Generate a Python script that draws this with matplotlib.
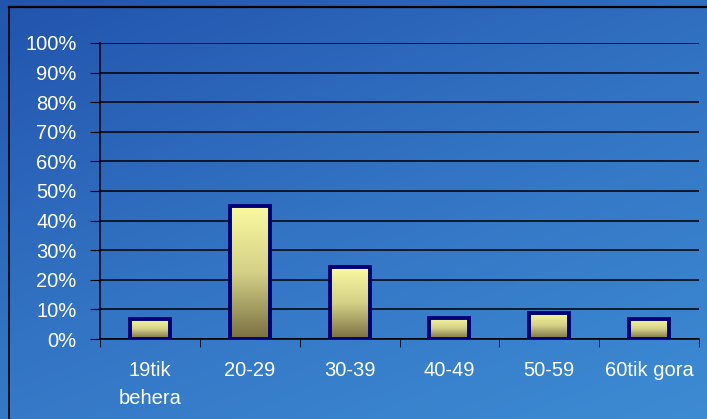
import matplotlib.pyplot as plt
import numpy as np
from matplotlib.colors import LinearSegmentedColormap
from matplotlib.lines import Line2D

# age groups and share of respondents (%)
categories = ['19tik\nbehera', '20-29', '30-39', '40-49', '50-59', '60tik gora']
values = [6.6, 44.8, 24.2, 7.2, 8.8, 6.7]

plt.rcParams['font.family'] = ['Liberation Sans', 'DejaVu Sans']

fig = plt.figure(figsize=(7.07, 4.19), dpi=100)

# blue slide background
bg = fig.add_axes([0, 0, 1, 1], zorder=-10)
yy, xx = np.mgrid[0:1:200j, 0:1:300j]
grad = 0.6 * yy + 0.4 * xx
bg_cmap = LinearSegmentedColormap.from_list('bg', ['#2254ad', '#3374c4', '#3d8bd3'])
bg.imshow(grad, cmap=bg_cmap, aspect='auto', extent=[0, 1, 0, 1], origin='upper')
bg.set_axis_off()

# outer frame
fig.add_artist(Line2D([9 / 707, 9 / 707], [0, 1 - 7 / 419], color='black', lw=1.2, transform=fig.transFigure))
fig.add_artist(Line2D([9 / 707, 1], [1 - 7 / 419, 1 - 7 / 419], color='black', lw=1.6, transform=fig.transFigure))

ax = fig.add_axes([100 / 707, 80 / 419, 599 / 707, 296 / 419])
ax.patch.set_alpha(0)

x = np.arange(len(categories))
bars = ax.bar(x, values, width=0.40, facecolor='none', edgecolor='#000078', linewidth=2.8, zorder=3)

bar_cmap = LinearSegmentedColormap.from_list('bar', ['#fafaa0', '#d4d086', '#7a7042'])
g = np.linspace(0, 1, 100).reshape(-1, 1)
for b in bars:
    x0, w, h = b.get_x(), b.get_width(), b.get_height()
    im = ax.imshow(g, cmap=bar_cmap, aspect='auto', extent=[x0, x0 + w, 0, h],
                   origin='upper', zorder=2)
    im.set_clip_path(b)

ax.set_xlim(-0.5, len(categories) - 0.5)
ax.set_ylim(0, 100)
ax.set_yticks(np.arange(0, 101, 10))
ax.set_yticklabels([f'{v}%' for v in range(0, 101, 10)])
ax.set_xticks(x)
ax.set_xticklabels(categories, linespacing=1.6)
ax.set_xticks(np.arange(-0.5, len(categories), 1), minor=True)
ax.tick_params(axis='x', which='major', length=0, pad=16)
ax.tick_params(axis='x', which='minor', length=6, direction='out')
ax.tick_params(axis='y', length=7, direction='out', pad=10)
ax.tick_params(labelcolor='white', labelsize=14.5)
ax.tick_params(axis='both', which='both', color='black')

ax.grid(axis='y', color='black', linewidth=1.1, zorder=1)
ax.set_axisbelow(True)
for s in ['top', 'right']:
    ax.spines[s].set_visible(False)
for s in ['left', 'bottom']:
    ax.spines[s].set_color('black')
    ax.spines[s].set_linewidth(1.1)

plt.savefig('out.png', dpi=100)
plt.close()
